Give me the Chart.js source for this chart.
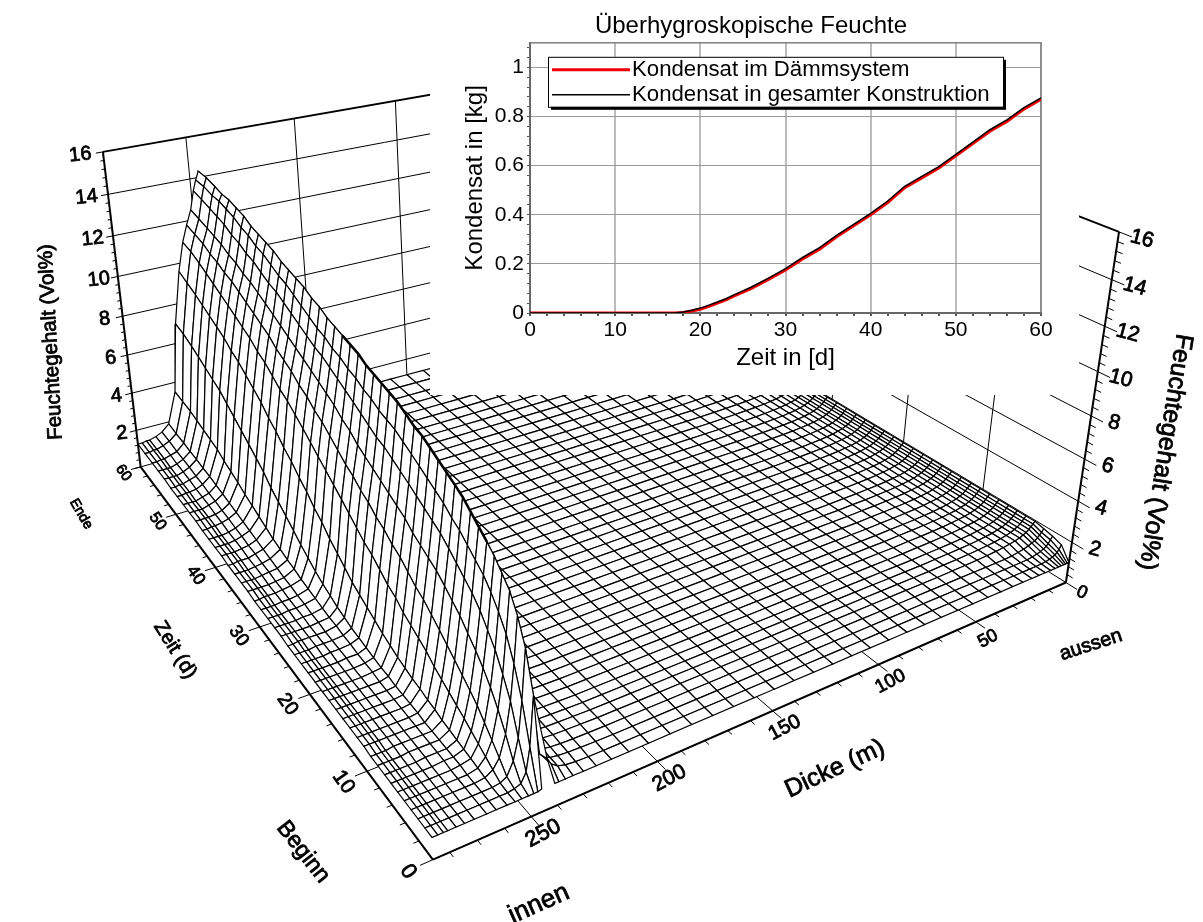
<!DOCTYPE html>
<html>
<head>
<meta charset="utf-8">
<script src="https://cdn.jsdelivr.net/npm/chart.js@4/dist/chart.umd.min.js"></script>
<style>
    html, body { margin: 0; padding: 0; background: #fff; }
    #canvaFlaeche { position: absolute; left: 0; top: 0; }
    #canvaKondensat { position: absolute; left: 430px; top: 0; background: #fff; }
</style>
</head>
<body>
<canvas id="canvaFlaeche" width="1203" height="922"></canvas>
<canvas id="canvaKondensat" width="649" height="395"></canvas>
<script>
// Kondensat (inset)
const kondensatZeit = [0, 10, 17, 18, 19, 20, 21, 22, 23, 24, 25, 26, 28, 30, 32, 34, 36, 38, 40, 42, 44, 46, 48, 50, 52, 54, 56, 58, 60];
const kondensatDaemm = [0, 0, 0, 0.002, 0.008, 0.015, 0.027, 0.04, 0.053, 0.07, 0.085, 0.1, 0.137, 0.175, 0.22, 0.26, 0.31, 0.355, 0.4, 0.45, 0.51, 0.55, 0.59, 0.64, 0.69, 0.74, 0.78, 0.83, 0.87];
const kondensatGesamt = [0, 0, 0, 0.004, 0.011, 0.02, 0.032, 0.045, 0.058, 0.075, 0.09, 0.106, 0.142, 0.181, 0.226, 0.266, 0.316, 0.361, 0.406, 0.456, 0.516, 0.556, 0.596, 0.646, 0.696, 0.746, 0.786, 0.836, 0.876];

// Gitter der Flaeche
const zeitStationen = [0, 1, 2, 3, 4, 5, 6, 7, 8.1, 9.2, 10.3, 11.4, 12.6, 13.8, 15, 16.2, 17.4, 18.7, 20, 21.3, 22.6, 23.9, 25.2, 26.5, 27.9, 29.3, 30.7, 32.1, 33.5, 35, 36.5, 38, 39.5, 41, 42.6, 44.2, 45.8, 47.4, 49, 50.7, 52.4, 54.1, 55.8, 57.9, 60];
const dickeAussen = [0, 1, 2, 3, 4.5, 6, 8, 10.5, 13.5, 17, 21, 26, 31.5, 38, 45, 53, 61, 69.5, 78, 87, 96, 105, 114, 123, 132, 141, 150, 159, 168, 177, 186, 195, 204, 212, 219, 225, 230, 234, 237, 239.5, 241];
const dickeInnen = [246, 247.5, 249, 251, 253.5, 256, 259, 263, 266.5, 271, 274.5, 277.5, 280.5, 282, 284, 286];

// Feuchte aussen: erste Zeilen einzeln, danach gleichbleibendes Profil
const aussenZeile0 = [1, 1, 1, 1, 1, 1, 1, 1, 1, 1, 1, 1, 1, 1, 1, 1, 1, 1, 1, 1, 1, 1, 1, 1, 1, 1, 1, 1, 1, 1, 1, 1, 1, 1, 1, 1, 1, 1, 1, 1, 1];
const aussenZeile1 = [1.6, 1.4, 1.3, 1.2, 1.15, 1.1, 1.05, 1.03, 1.02, 1.02, 1.02, 1.02, 1.02, 1.02, 1.02, 1.02, 1.02, 1.02, 1.02, 1.02, 1.02, 1.02, 1.02, 1.02, 1.02, 1.02, 1.02, 1.02, 1.02, 1.02, 1.02, 1.02, 1.02, 1.02, 1.02, 1.03, 1.05, 1.1, 1.2, 1.4, 1.7];
const aussenZeile2 = [1.75, 1.6, 1.45, 1.35, 1.28, 1.2, 1.15, 1.1, 1.06, 1.05, 1.05, 1.05, 1.05, 1.05, 1.05, 1.05, 1.05, 1.05, 1.05, 1.05, 1.05, 1.05, 1.05, 1.05, 1.05, 1.05, 1.05, 1.05, 1.05, 1.05, 1.05, 1.05, 1.05, 1.05, 1.06, 1.08, 1.1, 1.14, 1.2, 1.35, 1.55];
const aussenZeile3 = [1.85, 1.7, 1.6, 1.5, 1.4, 1.35, 1.28, 1.2, 1.15, 1.1, 1.08, 1.08, 1.08, 1.08, 1.08, 1.08, 1.08, 1.08, 1.08, 1.08, 1.08, 1.08, 1.08, 1.08, 1.08, 1.08, 1.08, 1.08, 1.08, 1.08, 1.08, 1.08, 1.08, 1.08, 1.09, 1.1, 1.12, 1.16, 1.22, 1.35, 1.5];
const aussenSpaet = [1.95, 1.85, 1.75, 1.65, 1.55, 1.48, 1.4, 1.34, 1.28, 1.24, 1.2, 1.17, 1.15, 1.13, 1.12, 1.1, 1.1, 1.1, 1.1, 1.1, 1.1, 1.1, 1.1, 1.1, 1.1, 1.1, 1.1, 1.1, 1.1, 1.1, 1.1, 1.1, 1.1, 1.1, 1.12, 1.14, 1.16, 1.2, 1.25, 1.35, 1.5];

// Feuchte innen: je Dicke eine Spalte ueber die Zeit
const innen246 = [1, 4.6, 6.2, 7.2, 7.9, 8.3, 8.7, 9, 9.3, 9.6, 9.9, 10.1, 10.3, 10.5, 10.7, 10.9, 11, 11.2, 11.4, 11.5, 11.6, 11.7, 11.8, 12, 12.1, 12.2, 12.3, 12.4, 12.6, 12.7, 12.9, 13, 13.1, 13.2, 13.4, 13.5, 13.6, 13.7, 13.9, 14, 14.1, 14.1, 14.2, 14.3, 14.3];
const innen247 = [0.95, 2.5, 4.1, 5.3, 6.2, 6.8, 7.3, 7.7, 8, 8.3, 8.6, 8.8, 9.1, 9.3, 9.5, 9.7, 9.9, 10.1, 10.3, 10.4, 10.5, 10.7, 10.8, 11, 11.1, 11.3, 11.4, 11.6, 11.7, 11.9, 12.1, 12.3, 12.5, 12.6, 12.8, 13, 13.1, 13.3, 13.4, 13.6, 13.7, 13.8, 13.8, 13.9, 13.9];
const innen249 = [0.95, 1.5, 2.6, 3.8, 4.6, 5.3, 5.8, 6.3, 6.7, 7, 7.3, 7.6, 7.9, 8.1, 8.3, 8.5, 8.7, 8.9, 9.1, 9.3, 9.4, 9.6, 9.8, 10, 10.2, 10.4, 10.6, 10.8, 10.9, 11.1, 11.3, 11.5, 11.7, 11.9, 12, 12.2, 12.4, 12.5, 12.7, 12.8, 13, 13.1, 13.2, 13.3, 13.4];
const innen251 = [0.95, 1.1, 1.7, 2.5, 3.2, 3.8, 4.3, 4.7, 5.1, 5.5, 5.8, 6.1, 6.4, 6.6, 6.8, 7, 7.3, 7.5, 7.7, 7.9, 8.1, 8.3, 8.5, 8.8, 9, 9.3, 9.5, 9.7, 9.9, 10.1, 10.3, 10.5, 10.7, 10.9, 11.1, 11.3, 11.5, 11.6, 11.8, 11.9, 12.1, 12.2, 12.3, 12.4, 12.5];
const innen253 = [0.95, 1, 1.15, 1.6, 2, 2.4, 2.8, 3.1, 3.4, 3.7, 4, 4.3, 4.6, 4.9, 5.1, 5.4, 5.7, 5.9, 6.2, 6.4, 6.7, 6.9, 7.2, 7.4, 7.7, 8, 8.3, 8.5, 8.8, 9, 9.3, 9.5, 9.7, 10, 10.2, 10.4, 10.6, 10.8, 11, 11.1, 11.3, 11.4, 11.6, 11.7, 11.8];
const innen256 = [0.95, 0.95, 1, 1.2, 1.4, 1.6, 1.8, 2, 2.2, 2.4, 2.6, 2.8, 3.1, 3.3, 3.5, 3.7, 4, 4.2, 4.5, 4.8, 5, 5.3, 5.6, 5.9, 6.2, 6.5, 6.8, 7.1, 7.4, 7.7, 8, 8.2, 8.5, 8.8, 9, 9.3, 9.5, 9.7, 9.9, 10.1, 10.3, 10.5, 10.7, 10.9, 11];
const innen259 = [0.95, 0.95, 0.95, 1, 1.05, 1.1, 1.15, 1.2, 1.25, 1.3, 1.4, 1.45, 1.55, 1.6, 1.7, 1.8, 1.95, 2.1, 2.3, 2.5, 2.7, 2.9, 3.2, 3.5, 3.8, 4.2, 4.5, 4.9, 5.2, 5.6, 5.9, 6.3, 6.6, 7, 7.3, 7.6, 7.9, 8.1, 8.4, 8.6, 8.8, 9, 9.2, 9.4, 9.6];
const innen263 = [0.95, 0.95, 0.95, 0.95, 0.95, 1, 1, 1, 1, 1, 1, 1.05, 1.05, 1.05, 1.05, 1.1, 1.1, 1.15, 1.2, 1.25, 1.3, 1.4, 1.5, 1.65, 1.8, 2, 2.25, 2.5, 2.8, 3.1, 3.4, 3.7, 4.1, 4.4, 4.7, 5, 5.3, 5.6, 5.9, 6.1, 6.3, 6.5, 6.7, 6.9, 7];
const innen266 = [0.95, 0.95, 0.95, 0.95, 0.95, 0.95, 1, 1, 1, 1, 1, 1, 1, 1, 1, 1, 1.05, 1.05, 1.05, 1.1, 1.1, 1.15, 1.15, 1.2, 1.25, 1.3, 1.35, 1.45, 1.5, 1.6, 1.7, 1.85, 2, 2.15, 2.3, 2.5, 2.65, 2.8, 3, 3.1, 3.2, 3.3, 3.4, 3.45, 3.5];
const innen271 = [0.95, 0.95, 0.95, 0.95, 0.95, 0.95, 0.95, 1, 1, 1, 1, 1, 1, 1, 1, 1, 1, 1, 1.05, 1.05, 1.05, 1.05, 1.1, 1.1, 1.15, 1.15, 1.2, 1.2, 1.25, 1.3, 1.35, 1.4, 1.45, 1.5, 1.55, 1.6, 1.65, 1.7, 1.75, 1.75, 1.8, 1.8, 1.85, 1.85, 1.9];
const innen274 = [0.95, 0.95, 0.95, 0.95, 0.95, 0.95, 0.95, 0.95, 1, 1, 1, 1, 1, 1, 1, 1, 1, 1, 1, 1.05, 1.05, 1.05, 1.05, 1.1, 1.1, 1.1, 1.15, 1.15, 1.2, 1.2, 1.25, 1.25, 1.3, 1.3, 1.35, 1.35, 1.4, 1.4, 1.45, 1.45, 1.5, 1.5, 1.5, 1.55, 1.55];
const innen277 = [0.95, 0.95, 0.95, 0.95, 0.95, 0.95, 0.95, 0.95, 0.95, 1, 1, 1, 1, 1, 1, 1, 1, 1, 1, 1, 1.05, 1.05, 1.05, 1.05, 1.1, 1.1, 1.1, 1.1, 1.15, 1.15, 1.15, 1.2, 1.2, 1.2, 1.25, 1.25, 1.3, 1.3, 1.3, 1.35, 1.35, 1.35, 1.4, 1.4, 1.4];
const innen280 = [0.95, 0.95, 0.95, 0.95, 0.95, 0.95, 0.95, 0.95, 0.95, 0.95, 1, 1, 1, 1, 1, 1, 1, 1, 1, 1, 1, 1.05, 1.05, 1.05, 1.05, 1.05, 1.1, 1.1, 1.1, 1.1, 1.15, 1.15, 1.15, 1.15, 1.2, 1.2, 1.2, 1.2, 1.25, 1.25, 1.25, 1.25, 1.3, 1.3, 1.3];
const innen282 = [0.95, 0.95, 0.95, 0.95, 0.95, 0.95, 0.95, 0.95, 0.95, 0.95, 1, 1, 1, 1, 1, 1, 1, 1, 1, 1, 1, 1.05, 1.05, 1.05, 1.05, 1.05, 1.1, 1.1, 1.1, 1.1, 1.15, 1.15, 1.15, 1.15, 1.2, 1.2, 1.2, 1.2, 1.25, 1.25, 1.25, 1.25, 1.3, 1.3, 1.3];
const innen284 = [0.95, 0.95, 0.95, 0.95, 0.95, 0.95, 0.95, 0.95, 0.95, 0.95, 1, 1, 1, 1, 1, 1, 1, 1, 1, 1, 1, 1, 1.05, 1.05, 1.05, 1.05, 1.05, 1.1, 1.1, 1.1, 1.1, 1.15, 1.15, 1.15, 1.15, 1.2, 1.2, 1.2, 1.2, 1.2, 1.25, 1.25, 1.25, 1.25, 1.25];
const innen286 = [0.95, 0.95, 0.95, 0.95, 0.95, 0.95, 0.95, 0.95, 0.95, 0.95, 1, 1, 1, 1, 1, 1, 1, 1, 1, 1, 1, 1, 1.05, 1.05, 1.05, 1.05, 1.05, 1.1, 1.1, 1.1, 1.1, 1.15, 1.15, 1.15, 1.15, 1.2, 1.2, 1.2, 1.2, 1.2, 1.25, 1.25, 1.25, 1.25, 1.25];

// Achsen
const zeitTicks = [0, 10, 20, 30, 40, 50, 60];
const dickeTicks = [50, 100, 150, 200, 250];
const feuchteTicks = [2, 4, 6, 8, 10, 12, 14, 16];
const dickeMax = 286;
const zeitMax = 60;
const feuchteMax = 16;

// Kamera: Bildpunkte bekannter Achsenpositionen [dicke, zeit, feuchte, px, py]
const kameraPunkte = [
    [286, 0, 0, 432, 858], [0, 0, 0, 1067, 582], [286, 60, 0, 143, 468], [0, 60, 0, 653, 325],
    [286, 60, 16, 103, 151], [0, 0, 16, 1118, 233], [0, 0, 10, 1098, 373],
    [50, 0, 0, 978, 622], [100, 0, 0, 878, 663], [250, 0, 0, 530, 817],
    [286, 10, 0, 367, 772], [286, 20, 0, 310, 693], [286, 30, 0, 260, 628], [286, 40, 0, 215, 568], [286, 50, 0, 175, 515],
    [250, 60, 16, 184, 137], [200, 60, 16, 295, 119], [150, 60, 16, 397, 100]
];

function loeseKamera(punkte) {
    const n = 11;
    const m = Array.from({ length: n }, () => new Array(n + 1).fill(0));
    const zeile = (a, b) => {
        for (let i = 0; i < n; i++) {
            for (let j = 0; j < n; j++) m[i][j] += a[i] * a[j];
            m[i][n] += a[i] * b;
        }
    };
    punkte.forEach(p => {
        const X = p[0] / dickeMax, Y = p[1] / zeitMax, Z = p[2] / feuchteMax, u = p[3] / 1000, v = p[4] / 1000;
        zeile([X, Y, Z, 1, 0, 0, 0, 0, -u * X, -u * Y, -u * Z], u);
        zeile([0, 0, 0, 0, X, Y, Z, 1, -v * X, -v * Y, -v * Z], v);
    });
    for (let i = 0; i < n; i++) {
        let piv = i;
        for (let r = i + 1; r < n; r++) if (Math.abs(m[r][i]) > Math.abs(m[piv][i])) piv = r;
        [m[i], m[piv]] = [m[piv], m[i]];
        for (let r = 0; r < n; r++) {
            if (r === i) continue;
            const f = m[r][i] / m[i][i];
            for (let c = i; c <= n; c++) m[r][c] -= f * m[i][c];
        }
    }
    return m.map((r, i) => r[n] / r[i]);
}

const kamera = loeseKamera(kameraPunkte);

function punkt(d, t, z) {
    const X = d / dickeMax, Y = t / zeitMax, Z = z / feuchteMax;
    const w = kamera[8] * X + kamera[9] * Y + kamera[10] * Z + 1;
    return {
        x: 1000 * (kamera[0] * X + kamera[1] * Y + kamera[2] * Z + kamera[3]) / w,
        y: 1000 * (kamera[4] * X + kamera[5] * Y + kamera[6] * Z + kamera[7]) / w
    };
}

const spaltenInnen = [innen246, innen247, innen249, innen251, innen253, innen256, innen259, innen263, innen266, innen271, innen274, innen277, innen280, innen282, innen284, innen286];
const zeilenAussen = [aussenZeile0, aussenZeile1, aussenZeile2, aussenZeile3];
const dickeAlle = dickeAussen.concat(dickeInnen);

function feuchteBei(i, j) {
    if (j < dickeAussen.length) return (zeilenAussen[i] || aussenSpaet)[j];
    return spaltenInnen[j - dickeAussen.length][i];
}

function linie(punkte, breite) {
    return { data: punkte, showLine: true, fill: false, borderColor: '#000', borderWidth: breite || 1, pointRadius: 0, clip: false };
}

function masche(punkte) {
    return { data: punkte, showLine: true, fill: 'shape', backgroundColor: '#fff', borderColor: '#000', borderWidth: 1.2, pointRadius: 0, clip: false };
}

// Zeichenfolge: hinten nach vorne, der erste Eintrag liegt hinten
const ebenen = [];

// Waende und Boden
feuchteTicks.forEach(z => {
    ebenen.push(linie([punkt(dickeMax, zeitMax, z), punkt(0, zeitMax, z)], z === 16 ? 2 : 1));
    ebenen.push(linie([punkt(0, 0, z), punkt(0, zeitMax, z)], z === 16 ? 2 : 1));
});
dickeTicks.forEach(d => {
    ebenen.push(linie([punkt(d, zeitMax, 0), punkt(d, zeitMax, feuchteMax)]));
    ebenen.push(linie([punkt(d, -1, 0), punkt(d, zeitMax, 0)]));
});
zeitTicks.forEach(t => {
    if (t > 0) ebenen.push(linie([punkt(0, t, 0), punkt(0, t, feuchteMax)]));
    ebenen.push(linie([punkt(dickeMax + 4.5, t, 0), punkt(0, t, 0)]));
});
ebenen.push(linie([punkt(0, 0, 0), punkt(0, zeitMax, 0)]));

// Flaeche
for (let i = zeitStationen.length - 2; i >= 0; i--) {
    for (let j = 0; j < dickeAlle.length - 1; j++) {
        if (i === 0 && j === dickeAussen.length - 1) continue; // Luecke am Grat vorne
        const d0 = dickeAlle[j], d1 = dickeAlle[j + 1], t0 = zeitStationen[i], t1 = zeitStationen[i + 1];
        ebenen.push(masche([
            punkt(d0, t1, feuchteBei(i + 1, j)),
            punkt(d1, t1, feuchteBei(i + 1, j + 1)),
            punkt(d1, t0, feuchteBei(i, j + 1)),
            punkt(d0, t0, feuchteBei(i, j)),
            punkt(d0, t1, feuchteBei(i + 1, j))
        ]));
    }
}

// Grat: dichte Linien wirken als dicke Kante
const gratPunkte = [];
zeitStationen.forEach((t, i) => {
    if (t >= 7 && t <= 30) gratPunkte.push(punkt(246, t, innen246[i]));
});
ebenen.push(linie(gratPunkte, 2.5));

// Achsenrahmen
ebenen.push(linie([punkt(dickeMax, 0, 0), punkt(0, 0, 0)], 2));
ebenen.push(linie([punkt(dickeMax, 0, 0), punkt(dickeMax, zeitMax, 0)], 2));
ebenen.push(linie([punkt(dickeMax, zeitMax, 0), punkt(dickeMax, zeitMax, feuchteMax)], 2));
ebenen.push(linie([punkt(0, 0, 0), punkt(0, 0, feuchteMax)], 2));

// Teilstriche
for (let t = 0; t <= zeitMax; t += 2) {
    if (t % 10 !== 0) ebenen.push(linie([punkt(dickeMax, t, 0), punkt(dickeMax + 2, t, 0)]));
}
for (let d = 10; d <= 280; d += 10) {
    if (d % 50 !== 0) ebenen.push(linie([punkt(d, 0, 0), punkt(d, -0.5, 0)]));
}
for (let k = 0; k <= 40; k++) {
    const z = k * 0.4;
    const gross = k % 5 === 0;
    ebenen.push(linie([punkt(dickeMax, zeitMax, z), punkt(dickeMax + (gross ? 3 : 1.5), zeitMax, z)]));
    ebenen.push(linie([punkt(0, 0, z), punkt(0, gross ? -1.2 : -0.6, z)]));
}

function schreibe(ctx, text, x, y, winkel, groesse) {
    ctx.save();
    ctx.translate(x, y);
    ctx.rotate(winkel * Math.PI / 180);
    ctx.font = groesse + 'px "Liberation Sans"';
    ctx.textAlign = 'center';
    ctx.textBaseline = 'middle';
    ctx.fillStyle = '#000';
    ctx.strokeStyle = '#000';
    ctx.lineWidth = 0.8;
    ctx.fillText(text, 0, 0);
    ctx.strokeText(text, 0, 0);
    ctx.restore();
}

const achsenTexte = {
    id: 'achsenTexte',
    afterDatasetsDraw(chart) {
        const ctx = chart.ctx;
        const sx = chart.scales.x, sy = chart.scales.y;
        const anker = (d, t, z) => {
            const p = punkt(d, t, z);
            return { x: sx.getPixelForValue(p.x), y: sy.getPixelForValue(p.y) };
        };
        zeitTicks.forEach(t => {
            const p = anker(dickeMax, t, 0);
            schreibe(ctx, String(t), p.x - 25 + t * 0.13, p.y + 12 - t * 0.1, 55, 22 - t * 0.12);
        });
        dickeTicks.forEach(d => {
            const p = anker(d, 0, 0);
            schreibe(ctx, String(d), p.x + 12, p.y + 17, -28, 17 + d * 0.02);
        });
        feuchteTicks.forEach(z => {
            const p = anker(dickeMax, zeitMax, z);
            schreibe(ctx, String(z), p.x - 13 - z * 0.6, p.y + 3, -6, 20);
            const q = anker(0, 0, z);
            schreibe(ctx, String(z), q.x + 23, q.y + 7, 15, 21);
        });
        const null0 = anker(0, 0, 0);
        schreibe(ctx, '0', null0.x + 16, null0.y + 10, 25, 18);
        schreibe(ctx, 'Feuchtegehalt (Vol%)', 51, 342, -93, 20.5);
        schreibe(ctx, 'Feuchtegehalt (Vol%)', 1165, 452, 99, 25);
        schreibe(ctx, 'Zeit (d)', 175, 650, 58, 20);
        schreibe(ctx, 'Ende', 81, 514, 60, 14);
        schreibe(ctx, 'Beginn', 303, 852, 52, 23);
        schreibe(ctx, 'innen', 539, 904, -24, 26);
        schreibe(ctx, 'Dicke (m)', 835, 769, -25, 25);
        schreibe(ctx, 'aussen', 1091, 645, -18, 20);
    }
};

new Chart(document.getElementById('canvaFlaeche'), {
    type: 'scatter',
    plugins: [achsenTexte],
    data: { datasets: ebenen.reverse() },
    options: {
        responsive: false,
        animation: false,
        events: [],
        parsing: false,
        normalized: true,
        layout: { padding: 0 },
        scales: {
            x: { type: 'linear', display: false, min: 0, max: 1203 },
            y: { type: 'linear', display: false, min: 0, max: 922, reverse: true }
        },
        plugins: { legend: { display: false }, tooltip: { enabled: false } }
    }
});

// Inset
const legendeKasten = {
    id: 'legendeKasten',
    beforeDatasetsDraw(chart) {
        const { ctx, chartArea: a } = chart;
        ctx.save();
        ctx.strokeStyle = '#808080';
        ctx.lineWidth = 1.5;
        ctx.strokeRect(a.left, a.top, a.right - a.left, a.bottom - a.top);
        ctx.restore();
    },
    afterDatasetsDraw(chart) {
        const { ctx, chartArea: a } = chart;
        const x = a.left + 18, y = a.top + 14, b = 455, h = 50;
        ctx.save();
        ctx.fillStyle = '#000';
        ctx.fillRect(x + 3, y + 3, b, h);
        ctx.fillStyle = '#fff';
        ctx.fillRect(x, y, b, h);
        ctx.strokeStyle = '#000';
        ctx.lineWidth = 1;
        ctx.strokeRect(x + 0.5, y + 0.5, b, h);
        ctx.font = '22.2px "Liberation Sans"';
        ctx.textBaseline = 'middle';
        ctx.fillStyle = '#000';
        const eintraege = [chart.data.datasets[1], chart.data.datasets[0]];
        eintraege.forEach((ds, i) => {
            const zy = y + 13 + i * 25;
            ctx.strokeStyle = ds.borderColor;
            ctx.lineWidth = ds.borderWidth;
            ctx.beginPath();
            ctx.moveTo(x + 4, zy);
            ctx.lineTo(x + 82, zy);
            ctx.stroke();
            ctx.fillText(ds.label, x + 84, zy);
        });
        ctx.restore();
    }
};

function teilstriche(schritt, max) {
    return (scale) => {
        const ticks = [];
        for (let k = 0; k * schritt <= max + 1e-9; k++) ticks.push({ value: +(k * schritt).toFixed(2) });
        scale.ticks = ticks;
    };
}

const istVielfaches = (v, s) => Math.abs(v / s - Math.round(v / s)) < 1e-6;

new Chart(document.getElementById('canvaKondensat'), {
    type: 'line',
    plugins: [legendeKasten],
    data: {
        labels: kondensatZeit,
        datasets: [
            {
                label: 'Kondensat in gesamter Konstruktion',
                data: kondensatZeit.map((x, i) => ({ x: x, y: kondensatGesamt[i] })),
                borderColor: '#000',
                borderWidth: 1.5,
                pointRadius: 0
            },
            {
                label: 'Kondensat im Dämmsystem',
                data: kondensatZeit.map((x, i) => ({ x: x, y: kondensatDaemm[i] })),
                borderColor: '#f00000',
                borderWidth: 3,
                pointRadius: 0
            }
        ]
    },
    options: {
        responsive: false,
        animation: false,
        events: [],
        layout: { padding: { left: 31, right: 38, top: 0, bottom: 0 } },
        scales: {
            x: {
                type: 'linear',
                min: 0,
                max: 60,
                afterBuildTicks: teilstriche(2, 60),
                afterFit: (s) => { s.height = 82; },
                border: { color: '#222', width: 2 },
                grid: {
                    color: (c) => istVielfaches(c.tick.value, 10) ? '#bbbbbb' : 'transparent',
                    lineWidth: 2,
                    tickColor: '#555',
                    tickLength: 3
                },
                ticks: {
                    autoSkip: false,
                    maxRotation: 0,
                    minRotation: 0,
                    padding: 2,
                    color: '#000',
                    font: { family: 'Liberation Sans', size: 21 },
                    callback: (v) => istVielfaches(v, 10) ? String(v) : ''
                },
                title: {
                    display: true,
                    text: 'Zeit in [d]',
                    color: '#000',
                    font: { family: 'Liberation Sans', size: 24 },
                    padding: { top: 0, bottom: 22 }
                }
            },
            y: {
                type: 'linear',
                min: 0,
                max: 1.1,
                afterBuildTicks: teilstriche(0.04, 1.1),
                afterFit: (s) => { s.width = 69; },
                border: { color: '#222', width: 2 },
                grid: {
                    color: (c) => istVielfaches(c.tick.value, 0.2) ? '#999999' : 'transparent',
                    lineWidth: 1,
                    tickColor: '#555',
                    tickLength: 3
                },
                ticks: {
                    autoSkip: false,
                    padding: 3,
                    color: '#000',
                    font: { family: 'Liberation Sans', size: 21 },
                    callback: (v) => istVielfaches(v, 0.2) ? String(+v.toFixed(1)) : ''
                },
                title: {
                    display: true,
                    text: 'Kondensat in [kg]',
                    color: '#000',
                    font: { family: 'Liberation Sans', size: 24 },
                    padding: { top: 0, bottom: 0 }
                }
            }
        },
        plugins: {
            legend: { display: false },
            tooltip: { enabled: false },
            title: {
                display: true,
                text: 'Überhygroskopische Feuchte',
                color: '#000',
                font: { family: 'Liberation Sans', size: 24, weight: 'normal' },
                padding: { top: 12, bottom: 2 }
            }
        }
    }
});
</script>
</body>
</html>
